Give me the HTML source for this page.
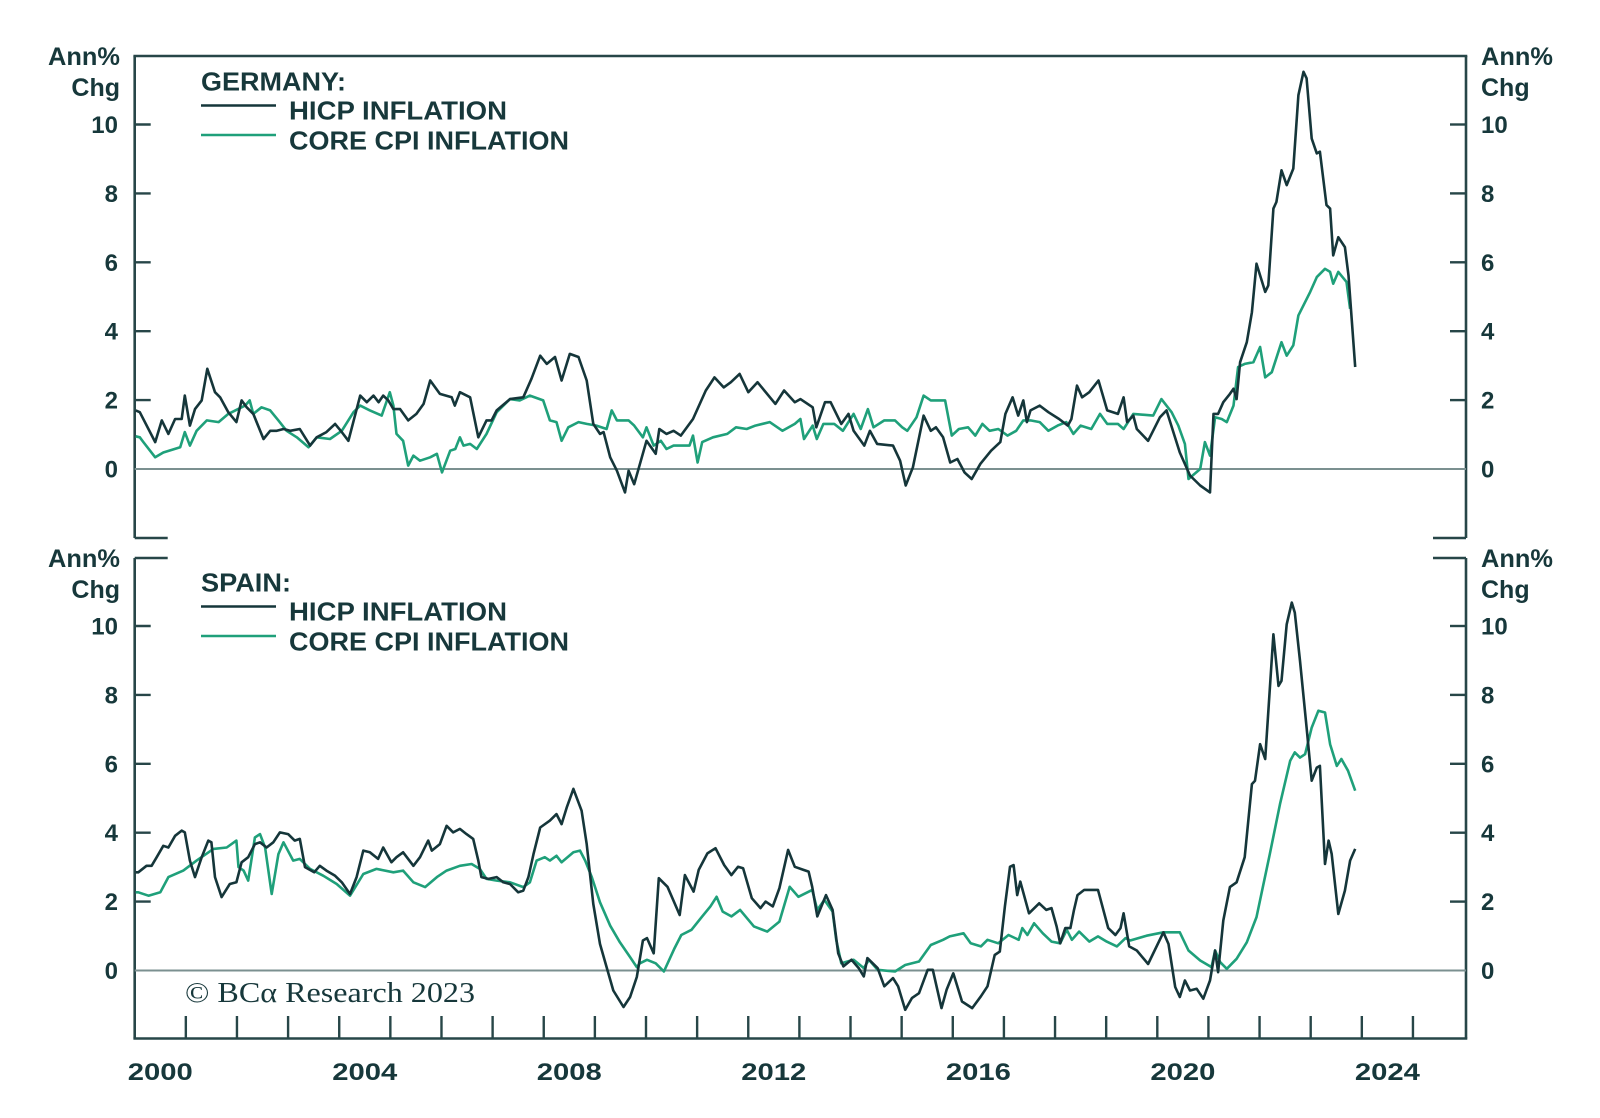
<!DOCTYPE html>
<html><head><meta charset="utf-8"><title>Germany and Spain inflation</title>
<style>html,body{margin:0;padding:0;background:#fff}svg{display:block}text{font-family:"Liberation Sans",sans-serif;fill:#17383b}</style>
</head><body>
<svg id="chart" width="1600" height="1118" viewBox="0 0 1600 1118" xmlns="http://www.w3.org/2000/svg">
<g id="frame"></g>
<g id="marks"></g>
<g id="labels"></g>
</svg>
<script>
const yTicks = [0, 2, 4, 6, 8, 10];
const xLabelYears = [2000, 2004, 2008, 2012, 2016, 2020, 2024];
const deHicp = [[2000.02,1.7],[2000.10,1.65],[2000.40,0.78],[2000.53,1.41],[2000.66,1.02],[2000.79,1.45],[2000.92,1.45],[2000.98,2.13],[2001.08,1.26],[2001.18,1.74],[2001.31,1.99],[2001.42,2.91],[2001.57,2.23],[2001.67,2.08],[2001.83,1.65],[2001.99,1.36],[2002.09,1.99],[2002.19,1.79],[2002.32,1.60],[2002.52,0.87],[2002.65,1.11],[2002.78,1.11],[2002.91,1.16],[2003.04,1.11],[2003.23,1.16],[2003.43,0.68],[2003.56,0.92],[2003.75,1.07],[2003.92,1.31],[2004.05,1.07],[2004.18,0.82],[2004.41,2.13],[2004.54,1.94],[2004.67,2.13],[2004.77,1.94],[2004.86,2.13],[2004.96,1.99],[2005.06,1.74],[2005.19,1.74],[2005.35,1.41],[2005.51,1.60],[2005.65,1.89],[2005.78,2.57],[2005.97,2.18],[2006.20,2.08],[2006.26,1.84],[2006.36,2.23],[2006.56,2.08],[2006.72,0.92],[2006.88,1.41],[2006.98,1.41],[2007.08,1.70],[2007.34,2.03],[2007.60,2.08],[2007.76,2.62],[2007.93,3.29],[2008.06,3.05],[2008.22,3.25],[2008.35,2.57],[2008.51,3.34],[2008.68,3.25],[2008.84,2.57],[2008.97,1.31],[2009.10,1.02],[2009.17,1.07],[2009.30,0.34],[2009.43,-0.05],[2009.59,-0.68],[2009.66,-0.05],[2009.77,-0.44],[2010.01,0.82],[2010.19,0.44],[2010.26,1.16],[2010.40,1.02],[2010.54,1.11],[2010.68,0.97],[2010.92,1.45],[2011.17,2.28],[2011.34,2.66],[2011.52,2.37],[2011.66,2.52],[2011.83,2.76],[2012.00,2.23],[2012.18,2.52],[2012.53,1.89],[2012.70,2.28],[2012.91,1.94],[2013.02,2.03],[2013.26,1.79],[2013.33,1.21],[2013.50,1.94],[2013.61,1.94],[2013.82,1.31],[2013.96,1.60],[2014.06,1.11],[2014.27,0.68],[2014.38,1.11],[2014.52,0.73],[2014.83,0.68],[2014.97,0.24],[2015.08,-0.48],[2015.22,0.05],[2015.43,1.55],[2015.57,1.11],[2015.67,1.21],[2015.81,0.92],[2015.95,0.19],[2016.09,0.29],[2016.23,-0.10],[2016.37,-0.29],[2016.54,0.15],[2016.75,0.53],[2016.93,0.78],[2017.03,1.60],[2017.17,2.08],[2017.28,1.55],[2017.38,1.99],[2017.45,1.36],[2017.52,1.70],[2017.70,1.84],[2017.87,1.65],[2018.08,1.45],[2018.25,1.26],[2018.32,1.45],[2018.43,2.42],[2018.53,2.08],[2018.67,2.23],[2018.85,2.57],[2019.02,1.70],[2019.23,1.60],[2019.34,2.08],[2019.41,1.36],[2019.53,1.55],[2019.60,1.16],[2019.82,0.82],[2020.05,1.50],[2020.18,1.70],[2020.44,0.48],[2020.64,-0.19],[2020.84,-0.48],[2021.03,-0.68],[2021.10,1.60],[2021.19,1.60],[2021.29,1.94],[2021.42,2.18],[2021.49,2.33],[2021.55,2.03],[2021.62,3.10],[2021.75,3.68],[2021.85,4.55],[2021.94,5.96],[2022.11,5.14],[2022.17,5.33],[2022.27,7.56],[2022.33,7.75],[2022.43,8.67],[2022.53,8.24],[2022.66,8.72],[2022.76,10.85],[2022.86,11.53],[2022.92,11.34],[2023.02,9.59],[2023.12,9.16],[2023.18,9.21],[2023.31,7.66],[2023.38,7.56],[2023.44,6.20],[2023.54,6.73],[2023.67,6.44],[2023.74,5.62],[2023.87,2.96]];
const deCore = [[2000.02,0.95],[2000.10,0.92],[2000.17,0.78],[2000.40,0.34],[2000.56,0.48],[2000.89,0.63],[2000.98,1.07],[2001.08,0.68],[2001.21,1.11],[2001.41,1.41],[2001.64,1.36],[2001.83,1.60],[2002.16,1.84],[2002.25,1.99],[2002.32,1.60],[2002.48,1.79],[2002.65,1.70],[2002.81,1.41],[2002.97,1.11],[2003.17,0.92],[2003.40,0.63],[2003.56,0.92],[2003.82,0.87],[2004.05,1.11],[2004.28,1.65],[2004.41,1.84],[2004.60,1.70],[2004.83,1.55],[2004.99,2.23],[2005.06,1.84],[2005.12,1.02],[2005.25,0.82],[2005.35,0.10],[2005.45,0.39],[2005.58,0.24],[2005.78,0.34],[2005.91,0.44],[2006.01,-0.10],[2006.17,0.53],[2006.27,0.58],[2006.36,0.92],[2006.43,0.68],[2006.56,0.73],[2006.69,0.58],[2006.88,1.02],[2007.08,1.65],[2007.34,2.03],[2007.53,1.99],[2007.73,2.13],[2007.99,1.99],[2008.12,1.41],[2008.25,1.36],[2008.35,0.82],[2008.48,1.21],[2008.68,1.36],[2008.84,1.31],[2009.03,1.26],[2009.23,1.16],[2009.33,1.70],[2009.43,1.41],[2009.66,1.41],[2009.77,1.26],[2009.94,0.92],[2010.01,1.21],[2010.15,0.68],[2010.29,0.82],[2010.40,0.58],[2010.54,0.68],[2010.85,0.68],[2010.92,0.97],[2011.01,0.19],[2011.10,0.78],[2011.31,0.92],[2011.59,1.02],[2011.76,1.21],[2011.97,1.16],[2012.14,1.26],[2012.42,1.36],[2012.67,1.11],[2012.91,1.31],[2013.02,1.45],[2013.09,0.87],[2013.26,1.26],[2013.34,0.87],[2013.47,1.31],[2013.68,1.31],[2013.85,1.11],[2014.06,1.60],[2014.20,1.16],[2014.34,1.74],[2014.45,1.21],[2014.66,1.41],[2014.87,1.41],[2015.01,1.21],[2015.11,1.11],[2015.29,1.50],[2015.43,2.13],[2015.57,1.99],[2015.85,1.99],[2015.98,0.97],[2016.12,1.16],[2016.30,1.21],[2016.44,0.97],[2016.58,1.31],[2016.72,1.11],[2016.89,1.16],[2017.07,0.97],[2017.24,1.11],[2017.38,1.41],[2017.52,1.41],[2017.70,1.36],[2017.87,1.11],[2018.05,1.26],[2018.22,1.36],[2018.36,1.02],[2018.50,1.26],[2018.71,1.16],[2018.88,1.60],[2019.02,1.31],[2019.23,1.31],[2019.34,1.16],[2019.53,1.60],[2019.92,1.55],[2020.08,2.03],[2020.28,1.65],[2020.41,1.26],[2020.54,0.73],[2020.61,-0.29],[2020.84,0.0],[2020.93,0.78],[2021.03,0.39],[2021.13,1.50],[2021.26,1.45],[2021.36,1.36],[2021.49,1.84],[2021.58,2.96],[2021.71,3.05],[2021.88,3.10],[2022.01,3.54],[2022.11,2.66],[2022.24,2.81],[2022.43,3.68],[2022.53,3.29],[2022.66,3.59],[2022.76,4.46],[2022.99,5.14],[2023.12,5.57],[2023.28,5.81],[2023.38,5.72],[2023.44,5.38],[2023.54,5.72],[2023.70,5.43],[2023.77,4.65]];
const esHicp = [[2000.02,2.85],[2000.07,2.85],[2000.23,3.04],[2000.33,3.04],[2000.43,3.29],[2000.56,3.62],[2000.66,3.57],[2000.79,3.91],[2000.92,4.06],[2000.98,4.01],[2001.08,3.19],[2001.18,2.71],[2001.31,3.29],[2001.44,3.77],[2001.50,3.72],[2001.57,2.71],[2001.70,2.13],[2001.80,2.37],[2001.86,2.51],[2001.99,2.56],[2002.09,3.14],[2002.22,3.29],[2002.35,3.67],[2002.45,3.72],[2002.58,3.57],[2002.71,3.72],[2002.84,4.01],[2003.00,3.96],[2003.13,3.77],[2003.23,3.82],[2003.33,3.00],[2003.51,2.85],[2003.62,3.04],[2003.75,2.90],[2003.92,2.75],[2004.05,2.56],[2004.21,2.22],[2004.34,2.71],[2004.47,3.48],[2004.60,3.43],[2004.76,3.24],[2004.86,3.57],[2005.02,3.14],[2005.12,3.29],[2005.25,3.43],[2005.45,3.04],[2005.58,3.29],[2005.74,3.77],[2005.81,3.48],[2005.97,3.67],[2006.10,4.20],[2006.23,4.01],[2006.36,4.11],[2006.49,3.96],[2006.62,3.82],[2006.72,3.19],[2006.78,2.71],[2006.92,2.66],[2007.08,2.71],[2007.21,2.56],[2007.34,2.51],[2007.50,2.27],[2007.60,2.32],[2007.70,2.71],[2007.80,3.38],[2007.93,4.15],[2008.12,4.35],[2008.25,4.54],[2008.35,4.25],[2008.45,4.73],[2008.58,5.27],[2008.74,4.64],[2008.84,3.67],[2008.97,1.93],[2009.10,0.77],[2009.23,0.10],[2009.36,-0.58],[2009.56,-1.06],[2009.69,-0.77],[2009.82,-0.19],[2009.94,0.87],[2010.02,0.94],[2010.15,0.50],[2010.25,2.68],[2010.42,2.43],[2010.66,1.61],[2010.76,2.77],[2010.93,2.29],[2011.03,2.92],[2011.20,3.40],[2011.36,3.55],[2011.53,3.06],[2011.67,2.77],[2011.80,3.01],[2011.90,2.97],[2012.07,2.10],[2012.24,1.81],[2012.34,2.00],[2012.48,1.86],[2012.61,2.39],[2012.78,3.50],[2012.91,3.01],[2013.08,2.92],[2013.18,2.87],[2013.25,2.43],[2013.35,1.57],[2013.52,2.19],[2013.65,1.76],[2013.76,0.50],[2013.86,0.12],[2014.02,0.31],[2014.16,0.07],[2014.26,-0.17],[2014.33,0.36],[2014.53,0.07],[2014.66,-0.46],[2014.83,-0.22],[2014.93,-0.46],[2015.07,-1.14],[2015.20,-0.80],[2015.34,-0.66],[2015.51,0.02],[2015.61,0.02],[2015.78,-1.09],[2015.88,-0.56],[2016.01,-0.08],[2016.18,-0.90],[2016.38,-1.09],[2016.55,-0.75],[2016.68,-0.46],[2016.82,0.45],[2016.92,0.55],[2017.02,1.86],[2017.12,3.01],[2017.19,3.06],[2017.26,2.19],[2017.32,2.58],[2017.49,1.66],[2017.69,1.95],[2017.83,1.76],[2017.93,1.81],[2018.03,1.28],[2018.10,0.79],[2018.20,1.23],[2018.30,1.23],[2018.37,1.76],[2018.44,2.19],[2018.57,2.34],[2018.84,2.34],[2019.04,1.23],[2019.18,1.03],[2019.28,1.23],[2019.34,1.66],[2019.45,0.70],[2019.60,0.58],[2019.82,0.19],[2020.12,1.11],[2020.22,0.77],[2020.35,-0.48],[2020.44,-0.77],[2020.54,-0.29],[2020.64,-0.58],[2020.77,-0.53],[2020.90,-0.82],[2021.03,-0.29],[2021.13,0.58],[2021.19,-0.05],[2021.29,1.45],[2021.42,2.42],[2021.55,2.56],[2021.71,3.29],[2021.85,5.41],[2021.91,5.51],[2022.01,6.57],[2022.11,6.14],[2022.27,9.76],[2022.37,8.26],[2022.43,8.41],[2022.53,10.05],[2022.63,10.68],[2022.69,10.39],[2022.79,8.99],[2022.92,7.05],[2023.02,5.51],[2023.12,5.89],[2023.18,5.94],[2023.28,3.09],[2023.35,3.77],[2023.41,3.38],[2023.54,1.64],[2023.67,2.32],[2023.77,3.19],[2023.87,3.53]];
const esCore = [[2000.02,2.27],[2000.07,2.27],[2000.27,2.17],[2000.50,2.27],[2000.66,2.71],[2000.95,2.90],[2001.21,3.19],[2001.54,3.53],[2001.80,3.57],[2001.99,3.77],[2002.03,3.00],[2002.13,2.90],[2002.22,2.61],[2002.35,3.86],[2002.45,3.96],[2002.55,3.57],[2002.68,2.22],[2002.81,3.38],[2002.91,3.72],[2003.10,3.19],[2003.23,3.24],[2003.43,2.95],[2003.69,2.75],[2003.95,2.51],[2004.21,2.17],[2004.47,2.80],[2004.73,2.95],[2005.06,2.85],[2005.25,2.90],[2005.45,2.56],[2005.68,2.42],[2005.91,2.71],[2006.10,2.90],[2006.36,3.04],[2006.59,3.09],[2006.75,2.95],[2006.88,2.66],[2007.08,2.61],[2007.34,2.56],[2007.60,2.42],[2007.73,2.56],[2007.86,3.19],[2008.02,3.29],[2008.12,3.19],[2008.25,3.33],[2008.35,3.14],[2008.58,3.43],[2008.71,3.48],[2008.81,3.19],[2008.94,2.71],[2009.10,1.98],[2009.30,1.30],[2009.49,0.82],[2009.69,0.39],[2009.82,0.10],[2009.88,0.21],[2010.02,0.31],[2010.19,0.21],[2010.35,-0.03],[2010.56,0.65],[2010.69,1.03],[2010.89,1.18],[2011.10,1.57],[2011.26,1.86],[2011.38,2.14],[2011.50,1.71],[2011.67,1.57],[2011.84,1.76],[2012.11,1.28],[2012.37,1.13],[2012.61,1.42],[2012.81,2.43],[2012.98,2.14],[2013.25,2.34],[2013.35,1.76],[2013.49,2.05],[2013.65,1.71],[2013.72,0.89],[2013.82,0.21],[2014.06,0.31],[2014.26,0.07],[2014.36,0.31],[2014.53,0.02],[2014.87,-0.03],[2015.07,0.16],[2015.34,0.26],[2015.57,0.74],[2015.81,0.89],[2015.94,0.99],[2016.21,1.08],[2016.35,0.79],[2016.55,0.70],[2016.68,0.89],[2016.89,0.79],[2017.09,1.03],[2017.29,0.89],[2017.36,1.23],[2017.46,1.03],[2017.59,1.37],[2017.76,1.08],[2017.93,0.84],[2018.10,0.79],[2018.23,1.18],[2018.33,0.89],[2018.47,1.13],[2018.67,0.84],[2018.84,0.99],[2019.01,0.84],[2019.21,0.70],[2019.38,0.94],[2019.47,0.87],[2019.79,1.01],[2020.12,1.11],[2020.44,1.11],[2020.61,0.58],[2020.84,0.29],[2021.06,0.10],[2021.13,0.58],[2021.23,0.24],[2021.36,0.05],[2021.55,0.34],[2021.75,0.82],[2021.94,1.55],[2022.20,3.38],[2022.40,4.83],[2022.60,6.09],[2022.69,6.33],[2022.79,6.18],[2022.89,6.28],[2023.02,7.05],[2023.15,7.54],[2023.28,7.49],[2023.38,6.57],[2023.51,5.94],[2023.60,6.14],[2023.73,5.80],[2023.87,5.22]];

const NS = 'http://www.w3.org/2000/svg';
const L = 134.7, R = 1466;
const DARK = '#15363a', GREEN = '#1fa07a', AX = '#274648', ZERO = '#7b9090';
function xOf(t) { return L + (t - 2000) * 51.13; }
const panels = [
  { key: 'germany', zero: 469, top: 56, bot: 538, title: 'GERMANY:', hicp: deHicp, core: deCore, legY: 81 },
  { key: 'spain', zero: 970.5, top: 558, bot: 1038.5, title: 'SPAIN:', hicp: esHicp, core: esCore, legY: 582 }
];
function yOf(p, v) { return p.zero - v * 34.45; }
function mk(tag, attrs, parent) {
  const el = document.createElementNS(NS, tag);
  for (const k in attrs) el.setAttribute(k, attrs[k]);
  parent.appendChild(el);
  return el;
}
const frame = document.getElementById('frame');
const marks = document.getElementById('marks');
const labels = document.getElementById('labels');
function line(x1, y1, x2, y2, stroke, w, parent, name) {
  const el = mk('line', { x1: x1, y1: y1, x2: x2, y2: y2, stroke: stroke, 'stroke-width': w }, parent);
  
  
  return el;
}
function text(str, x, y, size, anchor, parent, name, extra) {
  const el = mk('text', { x: x, y: y, 'font-size': size, 'font-weight': 'bold', 'text-anchor': anchor }, parent);
  if (extra) for (const k in extra) el.setAttribute(k, extra[k]);
  el.textContent = str;
  
  
  return el;
}
panels.forEach(function (p, i) {
  // frame
  if (i === 0) {
    line(L - 1.3, p.top, R + 1.3, p.top, AX, 2.6, frame, 'top-panel-top-border');
    line(L, p.bot, L + 33, p.bot, AX, 2.6, frame, 'top-panel-left-stub');
    line(R - 33, p.bot, R, p.bot, AX, 2.6, frame, 'top-panel-right-stub');
  } else {
    line(L, p.top, L + 33, p.top, AX, 2.6, frame, 'bottom-panel-left-stub');
    line(R - 33, p.top, R, p.top, AX, 2.6, frame, 'bottom-panel-right-stub');
    line(L - 1.3, p.bot, R + 1.3, p.bot, AX, 2.6, frame, 'x-axis-line');
  }
  line(L, p.top, L, p.bot, AX, 2.6, frame, p.key + '-left-axis');
  line(R, p.top, R, p.bot, AX, 2.6, frame, p.key + '-right-axis');
  line(L, p.zero, R, p.zero, ZERO, 2, frame, p.key + '-zero-line');
  yTicks.forEach(function (v) {
    const y = yOf(p, v);
    if (v !== 0) {
      line(L, y, L + 16, y, AX, 2.4, frame, p.key + '-left-tick');
      line(R - 16, y, R, y, AX, 2.4, frame, p.key + '-right-tick');
    }
    text(String(v), 118, y + 8.5, 24, 'end', labels, p.key + '-left-tick-label');
    text(String(v), 1481, y + 8.5, 24, 'start', labels, p.key + '-right-tick-label');
  });
  const uy = p.top;
  text('Ann%', 120, uy + 9, 25, 'end', labels, p.key + '-left-unit-label', { textLength: 72, lengthAdjust: 'spacingAndGlyphs' });
  text('Chg', 120, uy + 40, 25, 'end', labels, p.key + '-left-unit-label');
  text('Ann%', 1481, uy + 9, 25, 'start', labels, p.key + '-right-unit-label', { textLength: 72, lengthAdjust: 'spacingAndGlyphs' });
  text('Chg', 1481, uy + 40, 25, 'start', labels, p.key + '-right-unit-label');
  // legend
  text(p.title, 201, p.legY + 9.5, 26, 'start', labels, p.key + '-legend-title', { textLength: p.title.length > 6 ? 145 : 90, lengthAdjust: 'spacingAndGlyphs' });
  line(201, p.legY + 24.5, 276, p.legY + 24.5, DARK, 2.6, labels, p.key + '-legend-hicp-swatch');
  text('HICP INFLATION', 289, p.legY + 38.5, 26, 'start', labels, p.key + '-legend-hicp', { textLength: 218, lengthAdjust: 'spacingAndGlyphs' });
  line(201, p.legY + 54, 276, p.legY + 54, GREEN, 2.6, labels, p.key + '-legend-core-swatch');
  text('CORE CPI INFLATION', 289, p.legY + 68.5, 26, 'start', labels, p.key + '-legend-core', { textLength: 280, lengthAdjust: 'spacingAndGlyphs' });
  // series
  [['core', p.core, GREEN], ['hicp', p.hicp, DARK]].forEach(function (s) {
    const d = s[1].map(function (pt, j) { return (j ? 'L' : 'M') + xOf(pt[0]).toFixed(1) + ' ' + yOf(p, pt[1]).toFixed(1); }).join(' ');
    const path = mk('path', { d: d, fill: 'none', stroke: s[2], 'stroke-width': 2.6, 'stroke-linejoin': 'round' }, marks);
    
    
  });
});
// x ticks
for (let k = 1; k <= 25; k++) {
  line(xOf(2000 + k), 1016, xOf(2000 + k), 1038.5, AX, 2.4, frame, 'x-tick');
}
xLabelYears.forEach(function (yr) {
  text(String(yr), xOf(yr + 0.5), 1080, 24, 'middle', labels, 'x-tick-label', { textLength: 65, lengthAdjust: 'spacingAndGlyphs' });
});
const cr = mk('text', { x: 185, y: 1002, 'font-size': 28, 'text-anchor': 'start', textLength: 290, lengthAdjust: 'spacingAndGlyphs', style: 'font-family:"Liberation Serif",serif' }, labels);
cr.textContent = '© BCα Research 2023';


</script>
</body></html>
